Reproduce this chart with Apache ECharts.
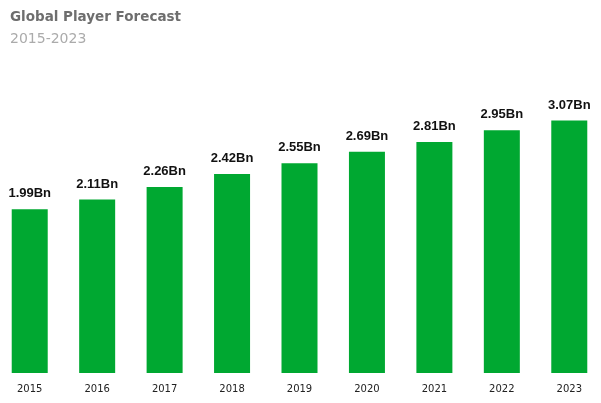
<!DOCTYPE html>
<html><head><meta charset="utf-8">
<script src="https://cdn.jsdelivr.net/npm/echarts@6/dist/echarts.min.js"></script>
<style>html,body{margin:0;padding:0;background:#fff;overflow:hidden;width:601px;height:403px}#c{width:607px;height:403px;margin-left:-4px}</style>
</head><body><div id="c"></div>
<script>
const years = ['2015','2016','2017','2018','2019','2020','2021','2022','2023'];
const players = [1.99, 2.11, 2.26, 2.42, 2.55, 2.69, 2.81, 2.95, 3.07];
const titleText = 'Global Player Forecast';
const subText = '2015-2023';

const chart = echarts.init(document.getElementById('c'));
chart.setOption({
  animation: false,
  title: {
    text: titleText, subtext: subText, left: 9, top: 5, itemGap: 8,
    textStyle: {fontFamily: 'DejaVu Sans', fontSize: 13.5, fontWeight: 'bold', color: '#6e6e6e'},
    subtextStyle: {fontFamily: 'DejaVu Sans', fontSize: 14, color: '#ababab'}
  },
  grid: {left: 0, right: 0, top: 44, bottom: 30, containLabel: false},
  xAxis: {
    type: 'category', data: years,
    axisLine: {show: false}, axisTick: {show: false},
    axisLabel: {margin: 11, fontFamily: 'DejaVu Sans', fontSize: 10, color: '#222'}
  },
  yAxis: {type: 'value', min: 0, max: 4, show: false, splitLine: {show: false}},
  series: [{
    type: 'bar', data: players, barWidth: 36,
    itemStyle: {color: '#00a831'},
    label: {show: true, position: 'top', distance: 9,
      formatter: p => p.value.toFixed(2) + 'Bn',
      fontFamily: 'Liberation Sans', fontSize: 13, fontWeight: 'bold', color: '#111'}
  }]
});
</script></body></html>
